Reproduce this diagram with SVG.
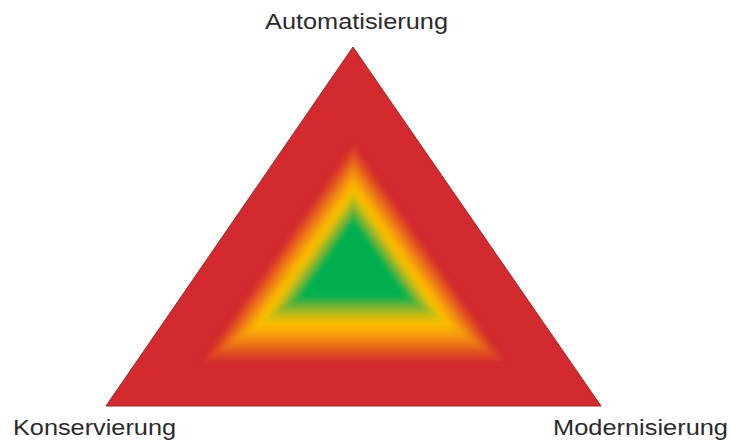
<svg xmlns="http://www.w3.org/2000/svg" xmlns:xlink="http://www.w3.org/1999/xlink" width="731" height="444" viewBox="0 0 731 444">
<style>
.lbl{font-family:"Liberation Sans",Arial,sans-serif;font-size:21.5px;fill:#2b2b2b}
</style>
<defs>
<polygon id="tri" points="0,-121 155,102 -155,102"/>
<filter id="soft" x="-20%" y="-20%" width="140%" height="140%">
<feGaussianBlur stdDeviation="2.2"/>
</filter>
</defs>
<rect width="731" height="444" fill="#ffffff"/>
<g id="triangle">
<polygon points="353,47 601,406 106,406" fill="#d22a2e" stroke="#9c2628" stroke-width="1"/>
<g filter="url(#soft)" transform="translate(353.5,262)">
<use xlink:href="#tri" fill="rgb(210,42,46)"/>
<use xlink:href="#tri" transform="scale(0.975)" fill="rgb(214,52,43)"/>
<use xlink:href="#tri" transform="scale(0.95)" fill="rgb(218,61,40)"/>
<use xlink:href="#tri" transform="scale(0.925)" fill="rgb(221,71,36)"/>
<use xlink:href="#tri" transform="scale(0.9)" fill="rgb(225,80,33)"/>
<use xlink:href="#tri" transform="scale(0.875)" fill="rgb(228,91,30)"/>
<use xlink:href="#tri" transform="scale(0.85)" fill="rgb(232,103,28)"/>
<use xlink:href="#tri" transform="scale(0.825)" fill="rgb(235,114,25)"/>
<use xlink:href="#tri" transform="scale(0.8)" fill="rgb(238,125,22)"/>
<use xlink:href="#tri" transform="scale(0.775)" fill="rgb(241,135,19)"/>
<use xlink:href="#tri" transform="scale(0.75)" fill="rgb(243,145,15)"/>
<use xlink:href="#tri" transform="scale(0.725)" fill="rgb(246,155,12)"/>
<use xlink:href="#tri" transform="scale(0.7)" fill="rgb(248,165,8)"/>
<use xlink:href="#tri" transform="scale(0.675)" fill="rgb(250,173,6)"/>
<use xlink:href="#tri" transform="scale(0.65)" fill="rgb(251,182,3)"/>
<use xlink:href="#tri" transform="scale(0.625)" fill="rgb(253,190,1)"/>
<use xlink:href="#tri" transform="scale(0.6)" fill="rgb(241,191,5)"/>
<use xlink:href="#tri" transform="scale(0.575)" fill="rgb(225,189,10)"/>
<use xlink:href="#tri" transform="scale(0.55)" fill="rgb(210,188,16)"/>
<use xlink:href="#tri" transform="scale(0.525)" fill="rgb(188,186,25)"/>
<use xlink:href="#tri" transform="scale(0.5)" fill="rgb(165,184,33)"/>
<use xlink:href="#tri" transform="scale(0.475)" fill="rgb(143,182,42)"/>
<use xlink:href="#tri" transform="scale(0.45)" fill="rgb(120,180,50)"/>
<use xlink:href="#tri" transform="scale(0.425)" fill="rgb(89,179,58)"/>
<use xlink:href="#tri" transform="scale(0.4)" fill="rgb(59,178,66)"/>
<use xlink:href="#tri" transform="scale(0.375)" fill="rgb(28,177,73)"/>
<use xlink:href="#tri" transform="scale(0.35)" fill="rgb(7,176,79)"/>
<use xlink:href="#tri" transform="scale(0.325)" fill="rgb(0,176,80)"/>
</g>
</g>
<g id="label-top"><text class="lbl" x="265" y="29" textLength="183" lengthAdjust="spacingAndGlyphs">Automatisierung</text></g>
<g id="label-left"><text class="lbl" x="13" y="435" textLength="163" lengthAdjust="spacingAndGlyphs">Konservierung</text></g>
<g id="label-right"><text class="lbl" x="553" y="435" textLength="175" lengthAdjust="spacingAndGlyphs">Modernisierung</text></g>
</svg>
